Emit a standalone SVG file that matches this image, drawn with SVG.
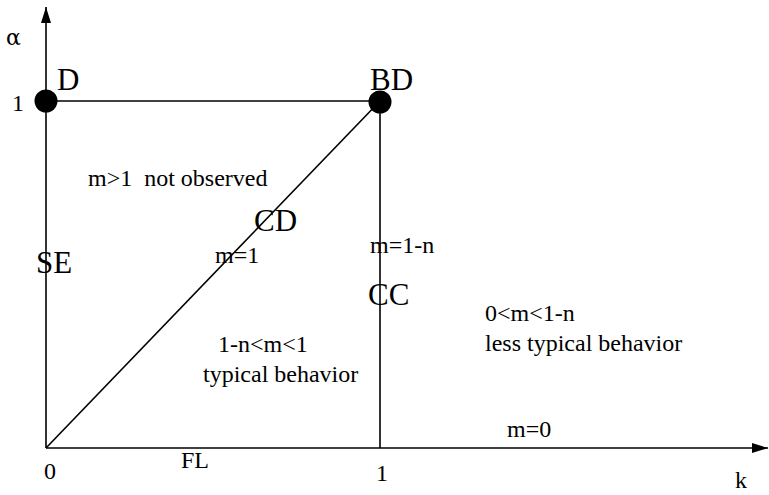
<svg xmlns="http://www.w3.org/2000/svg" width="769" height="495" viewBox="0 0 769 495">
<style>
.ln{stroke:#000;stroke-width:1.6;fill:none}
.t{font-family:"Liberation Serif","Times New Roman",serif;font-size:24px;fill:#000;white-space:pre}
.b{font-family:"Liberation Serif","Times New Roman",serif;font-size:31px;fill:#000}
</style>
<defs>
<marker id="ah" viewBox="0 0 16 10" refX="16" refY="5" markerWidth="16" markerHeight="10" markerUnits="userSpaceOnUse" orient="auto">
<path d="M0,0 L16,5 L0,10 Z" fill="#000"/>
</marker>
</defs>
<rect width="769" height="495" fill="#fff"/>
<g id="connectors">
<line class="ln" x1="46" y1="448" x2="46" y2="7" marker-end="url(#ah)"/>
<line class="ln" x1="46" y1="448" x2="768" y2="448" marker-end="url(#ah)"/>
<line class="ln" x1="46" y1="101" x2="380" y2="101"/>
<line class="ln" x1="380" y1="101" x2="380" y2="448"/>
<line class="ln" x1="46" y1="448" x2="380" y2="101"/>
</g>
<g id="D">
<circle cx="46" cy="101" r="11.5" fill="#000"/>
<text class="b" x="57" y="90">D</text>
</g>
<g id="BD">
<circle cx="380" cy="102" r="11.5" fill="#000"/>
<text class="b" x="370" y="90">BD</text>
</g>
<g id="labels">
<text x="6" y="45" style="font-family:'DejaVu Serif',serif;font-size:22px;fill:#000">α</text>
<text class="t" x="12" y="111">1</text>
<text class="t" x="88" y="186">m&gt;1  not observed</text>
<text class="b" x="254" y="231">CD</text>
<text class="t" x="215" y="263">m=1</text>
<text class="t" x="370" y="253">m=1-n</text>
<text class="b" x="36" y="273">SE</text>
<text class="b" x="368" y="305">CC</text>
<text class="t" x="218" y="352">1-n&lt;m&lt;1</text>
<text class="t" x="203" y="382">typical behavior</text>
<text class="t" x="485" y="321">0&lt;m&lt;1-n</text>
<text class="t" x="485" y="351">less typical behavior</text>
<text class="t" x="507" y="437">m=0</text>
<text class="t" x="44" y="479">0</text>
<text class="t" x="181" y="468">FL</text>
<text class="t" x="376" y="481">1</text>
<text class="t" x="735" y="488">k</text>
</g>
</svg>
